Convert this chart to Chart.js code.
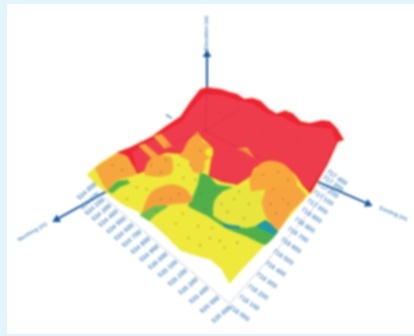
<!DOCTYPE html>
<html>
<head>
<meta charset="utf-8">
<script src="https://cdn.jsdelivr.net/npm/chart.js@4"></script>
<style>
  html, body { margin: 0; padding: 0; width: 414px; height: 336px; overflow: hidden; background: #e2f4fc; }
  #panel { position: absolute; left: 7px; top: 4px; width: 407px; height: 330px; background: #fff; }
  #wrap { position: absolute; left: 0; top: 0; width: 414px; height: 336px; filter: blur(1.2px); }
</style>
</head>
<body>
<div id="panel"></div>
<div id="wrap"><canvas id="chart"></canvas></div>
<script>
const surface = [[84,175],[97,163],[115,152],[130,146],[150,136],[165,125],[180,115],[190,100],[200,87],[207,85],[215,86],[222,87],[230,90],[238,92],[245,97],[254,96],[262,99],[270,107],[278,112],[287,109],[295,112],[303,120],[312,122],[325,119],[333,120],[340,127],[347,139],[341,141],[330,165],[315,192],[307,200],[280,232],[262,252],[245,270],[230,287],[222,272],[210,262],[195,258],[180,253],[165,238],[148,222],[135,212],[120,205],[105,194],[95,186],[84,175]];
const redZone = [[115,152],[130,146],[150,136],[165,125],[180,115],[190,100],[200,87],[207,85],[215,86],[222,87],[230,90],[238,92],[245,97],[254,96],[262,99],[270,107],[278,112],[287,109],[295,112],[303,120],[312,122],[325,119],[333,120],[340,127],[347,139],[341,141],[330,165],[313,194],[306,187],[298,175],[285,164],[268,161],[255,168],[251,176],[249,178],[238,185],[222,182],[209,176],[212,157],[211,145],[200,135],[190,142],[180,153],[165,152],[150,158],[143,171],[135,174],[125,156],[115,152]];
const redInner = [[130,152],[165,130],[182,120],[192,105],[205,92],[222,93],[240,99],[254,102],[268,112],[285,116],[300,124],[320,126],[335,128],[339,142],[328,165],[312,190],[306,186],[298,174],[285,163],[268,160],[255,167],[252,176],[238,184],[222,181],[210,175],[213,157],[212,145],[200,134],[190,141],[180,152],[165,151],[150,157],[143,170],[136,172]];
const orangeLeft = [[92,168],[104,160],[115,153],[125,156],[135,174],[123,178],[114,181],[105,191],[98,180]];
const orangeStripeA = [[137,145],[143,143],[157,155],[150,158]];
const orangeStripeB = [[152,135],[160,133],[171,145],[163,148]];
const orangeMidLeft = [[143,171],[148,160],[160,155],[170,157],[172,167],[170,174],[157,177],[143,175]];
const orangeMid = [[183,150],[188,140],[198,131],[202,140],[212,147],[212,157],[205,160],[203,172],[193,172],[188,160],[178,155]];
const orangeLow = [[140,215],[150,193],[170,185],[185,190],[192,202],[173,205],[153,207]];
const orangeRightA = [[250,180],[263,163],[283,163],[297,177],[298,185],[267,190],[252,192]];
const orangeRightB = [[267,190],[297,185],[308,197],[293,213],[280,232],[267,217],[263,203]];
const orangeSmall = [[238,148],[248,147],[255,157],[247,152]];
const greenLeft = [[105,192],[115,182],[123,181],[128,183],[117,188],[110,194]];
const greenLow = [[138,217],[153,207],[167,207],[153,217],[148,223]];
const greenBand = [[200,173],[210,177],[217,185],[233,188],[223,192],[217,203],[213,217],[230,227],[247,230],[257,228],[267,222],[280,233],[267,247],[247,238],[227,230],[207,217],[188,207],[193,197],[197,187]];
const yellowBlob = [[213,212],[216,200],[225,192],[240,187],[255,188],[263,198],[266,212],[262,222],[250,228],[232,227],[218,220]];
const tealCorner = [[257,228],[267,222],[279,233],[275,237]];
const tealThin = [[223,226],[240,228],[240,230],[225,229]];
const yellowSpot = [[205,150],[212,147],[212,156],[206,155]];

const sampleDots = [[120,170],[110,165],[130,163],[125,180],[150,165],[160,172],[165,160],[178,165],[183,178],[190,165],[200,150],[195,180],[200,195],[215,190],[222,205],[205,210],[212,230],[235,200],[250,205],[240,192],[228,213],[245,220],[178,195],[160,200],[170,200],[145,190],[135,188],[125,200],[155,212],[175,225],[198,228],[188,240],[200,248],[210,240],[220,243],[225,250],[238,245],[265,175],[280,172],[290,180],[275,190],[285,200],[272,205],[290,205],[278,215],[182,215],[205,175],[225,180],[250,140],[265,130],[290,150],[300,140],[220,110],[200,115],[230,150]];
const ridgeLines = [[[207,87],[205,130]],[[205,130],[242,106]],[[205,130],[165,145]],[[205,130],[262,158]]];

const zAxisLine = [[207,85],[207,51]];
const leftAxisLine = [[104,192],[53,221]];
const rightAxisLine = [[318,181],[372,205]];
const backStub = [[165,113],[171,117]];
const floorLeft = [[100,197],[230,308]];
const floorRight = [[230,308],[333,190]];

// ticks bunch up towards the far corners because of the perspective
const leftTickAcross = [84,87,92,99,106,114,122,130,139,148,157,167,177,188,199,210,222];
const leftTickDown = [192,202,208,214,220,227,234,241,248,256,264,272,281,290,299,309,319];
const rightTickAcross = [240,250,259,268,277,285,293,300,307,314,320,326,331,336,340];
const rightTickDown = [318,307,296,284,272,260,248,237,227,217,208,199,191,184,178];
const leftTicks = ['534 000','534 100','534 200','534 300','534 400','534 500','534 600','534 700','534 800','534 900','535 000','535 100','535 200','535 300','535 400','535 500','535 600'];
const rightTicks = ['716 000','716 100','716 200','716 300','716 400','716 500','716 600','716 700','716 800','716 900','717 000','717 100','717 200','717 300','717 400'];
const axisTitles = [
  { text: 'Elevation (m)', at: [206,29], angle: -90 },
  { text: 'Northing (m)', at: [28,234], angle: -31 },
  { text: 'Easting (m)', at: [398,215], angle: 24 }
];

const toPoints = (list) => list.map(([x, y]) => ({ x, y }));

// first one in this list ends up at the bottom, third value is how round the outline is
const fills = [
  [surface, '#eee93a', 0],
  [redZone, '#ee2233', 0],
  [redInner, '#ef3c4c', 0],
  [orangeLeft, '#f6a63c', 0.15],
  [orangeStripeA, '#f6a63c', 0],
  [orangeStripeB, '#f6a63c', 0],
  [orangeMidLeft, '#f6a63c', 0.3],
  [orangeMid, '#f6a63c', 0.2],
  [yellowSpot, '#f2e82c', 0.3],
  [orangeSmall, '#f6a63c', 0],
  [greenLeft, '#4fb548', 0.2],
  [greenLow, '#6cbf4a', 0.2],
  [greenBand, '#4fb04a', 0.15],
  [yellowBlob, '#e8e63c', 0.4],
  [orangeLow, '#f6a03c', 0.3],
  [orangeRightA, '#f8a83a', 0.4],
  [orangeRightB, '#f7a440', 0.2],
  [tealCorner, '#1f9aaa', 0.1],
  [tealThin, '#1f8fa5', 0]
];

const datasets = [];
const plainLine = (list, color, width) => ({
  data: toPoints(list), showLine: true, fill: false, borderColor: color, borderWidth: width,
  pointRadius: 0, tension: 0
});

datasets.push(plainLine(floorLeft, '#c8ccd2', 1));
datasets.push(plainLine(floorRight, '#c8ccd2', 1));
datasets.push(plainLine(backStub, '#7fa8cc', 2));

[zAxisLine, leftAxisLine, rightAxisLine].forEach((line) => {
  const [a, b] = line[0], [c, d] = line[1];
  const turn = Math.atan2(c - a, b - d) * 180 / Math.PI;
  datasets.push({
    data: toPoints(line), showLine: true, fill: false, borderColor: '#14589e', borderWidth: 2,
    pointStyle: 'triangle', pointRotation: turn, pointRadius: [0, 5], pointBackgroundColor: '#14589e',
    pointBorderWidth: 0, tension: 0
  });
});

fills.forEach(([list, color, round]) => {
  datasets.push({
    data: toPoints(list), showLine: true, fill: 'shape', backgroundColor: color, borderColor: color,
    borderWidth: 0.5, pointRadius: 0, tension: round
  });
});

ridgeLines.forEach((line) => datasets.push(plainLine(line, 'rgba(190,30,50,0.4)', 1)));

datasets.push({
  data: toPoints(sampleDots), showLine: false, pointRadius: 0.9, pointBorderWidth: 0,
  pointBackgroundColor: 'rgba(110,90,40,0.6)'
});

// datasets paint last to first by default, so flip with order
datasets.forEach((d, i) => { d.order = datasets.length - i; });

function rotatedText(ctx, text, x, y, angle) {
  ctx.save();
  ctx.translate(x, y);
  ctx.rotate(angle * Math.PI / 180);
  ctx.fillText(text, 0, 0);
  ctx.restore();
}

const axisText = {
  id: 'axisText',
  afterDatasetsDraw(chart) {
    const { ctx, scales } = chart;
    ctx.save();
    ctx.textAlign = 'center';
    ctx.textBaseline = 'middle';
    ctx.fillStyle = '#5b93c4';
    ctx.font = 'bold 6.5px "Liberation Sans"';

    leftTicks.forEach((label, i) => {
      rotatedText(ctx, label, scales.x.getPixelForValue(leftTickAcross[i]), scales.y.getPixelForValue(leftTickDown[i]), -40);
    });
    rightTicks.forEach((label, i) => {
      rotatedText(ctx, label, scales.x.getPixelForValue(rightTickAcross[i]), scales.y.getPixelForValue(rightTickDown[i]), 35);
    });

    ctx.font = 'bold 5.5px "Liberation Sans"';
    axisTitles.forEach((title) => {
      rotatedText(ctx, title.text, scales.x.getPixelForValue(title.at[0]), scales.y.getPixelForValue(title.at[1]), title.angle);
    });
    ctx.restore();
  }
};

new Chart(document.getElementById('chart'), {
  type: 'scatter',
  data: { datasets },
  options: {
    responsive: true,
    maintainAspectRatio: false,
    animation: false,
    layout: { padding: 0 },
    plugins: { legend: { display: false }, tooltip: { enabled: false } },
    scales: {
      x: { type: 'linear', min: 0, max: 414, display: false },
      y: { type: 'linear', min: 0, max: 336, reverse: true, display: false }
    }
  },
  plugins: [axisText]
});
</script>
</body>
</html>
